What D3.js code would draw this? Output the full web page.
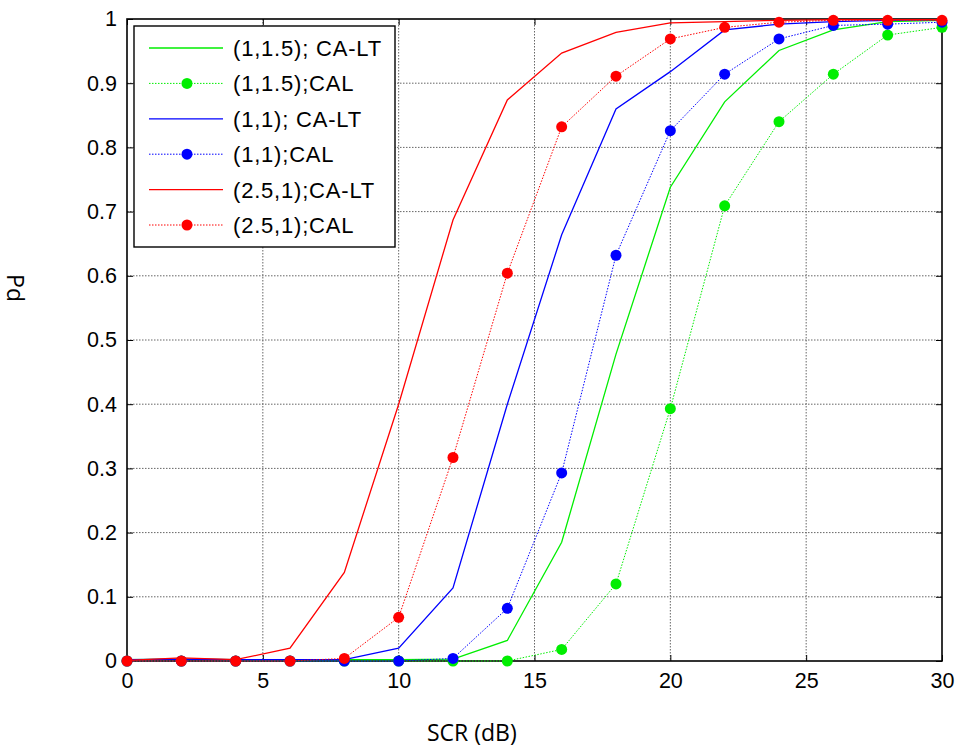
<!DOCTYPE html>
<html>
<head>
<meta charset="utf-8">
<script src="https://cdn.jsdelivr.net/npm/d3@7"></script>
<style>
  body { margin: 0; background: #fff; }
  svg { display: block; }
</style>
</head>
<body>
<svg id="chart" width="959" height="751"></svg>
<script>
// SCR values (dB)
var scr = [0, 2, 4, 6, 8, 10, 12, 14, 16, 18, 20, 22, 24, 26, 28, 30];

// Pd curves
var greenLT  = [0.002, 0.003, 0.002, 0.002, 0.002, 0.002, 0.003, 0.032, 0.185, 0.478, 0.738, 0.871, 0.951, 0.983, 0.996, 0.998];
var greenCAL = [0, 0, 0, 0, 0, 0, 0, 0, 0.018, 0.12, 0.393, 0.709, 0.84, 0.914, 0.975, 0.987];
var blueLT   = [0.002, 0.003, 0.002, 0.002, 0.002, 0.02, 0.114, 0.40, 0.664, 0.86, 0.918, 0.983, 0.992, 0.996, 0.998, 0.999];
var blueCAL  = [0, 0, 0, 0, 0, 0, 0.004, 0.082, 0.293, 0.632, 0.826, 0.914, 0.969, 0.99, 0.992, 0.995];
var redLT    = [0.001, 0.005, 0.002, 0.02, 0.138, 0.40, 0.687, 0.874, 0.947, 0.979, 0.994, 0.996, 0.998, 0.999, 0.999, 0.999];
var redCAL   = [0, 0, 0, 0, 0.004, 0.068, 0.317, 0.604, 0.832, 0.911, 0.969, 0.987, 0.995, 0.998, 0.998, 0.998];

var legendLabels = ["(1,1.5); CA-LT", "(1,1.5);CAL", "(1,1); CA-LT", "(1,1);CAL", "(2.5,1);CA-LT", "(2.5,1);CAL"];
var xTicks = [0, 5, 10, 15, 20, 25, 30];
var yTicks = [0, 0.1, 0.2, 0.3, 0.4, 0.5, 0.6, 0.7, 0.8, 0.9, 1];

var series = [
  { name: legendLabels[0], values: greenLT,  color: "#00ee00", marker: false },
  { name: legendLabels[1], values: greenCAL, color: "#00ee00", marker: true },
  { name: legendLabels[2], values: blueLT,   color: "#0000ff", marker: false },
  { name: legendLabels[3], values: blueCAL,  color: "#0000ff", marker: true },
  { name: legendLabels[4], values: redLT,    color: "#ff0000", marker: false },
  { name: legendLabels[5], values: redCAL,   color: "#ff0000", marker: true }
];

var svg = d3.select("#chart");
var pLeft = 127, pRight = 942, pTop = 19, pBottom = 661;

var x = d3.scaleLinear().domain([0, 30]).range([pLeft, pRight]);
var y = d3.scaleLinear().domain([0, 1]).range([pBottom, pTop]);

var tickFont = "'Liberation Sans', Arial, sans-serif";

// grid
var grid = svg.append("g");
grid.selectAll(".gx").data(xTicks.slice(1, -1)).enter().append("line")
  .attr("x1", d => x(d)).attr("x2", d => x(d))
  .attr("y1", pTop).attr("y2", pBottom)
  .attr("stroke", "#666").attr("stroke-width", 1).attr("stroke-dasharray", "1.5,1.5");
grid.selectAll(".gy").data(yTicks.slice(1, -1)).enter().append("line")
  .attr("y1", d => y(d)).attr("y2", d => y(d))
  .attr("x1", pLeft).attr("x2", pRight)
  .attr("stroke", "#666").attr("stroke-width", 1).attr("stroke-dasharray", "1.5,1.5");

// axes, ticks inward like matlab
var xAxisB = d3.axisBottom(x).tickValues(xTicks).tickSize(-6).tickPadding(12).tickFormat(d3.format("d"));
var xAxisT = d3.axisTop(x).tickValues(xTicks).tickSize(-6).tickFormat("");
var yAxisL = d3.axisLeft(y).tickValues(yTicks).tickSize(-6).tickPadding(10).tickFormat(d => d === 0 || d === 1 ? d : d3.format(".1f")(d));
var yAxisR = d3.axisRight(y).tickValues(yTicks).tickSize(-6).tickFormat("");

function styleAxis(g) {
  g.select(".domain").remove();
  g.selectAll(".tick line").attr("stroke", "#000").attr("stroke-width", 1);
  g.selectAll("text").attr("font-family", tickFont).attr("font-size", 21.5).attr("fill", "#000");
}
svg.append("g").attr("transform", "translate(0," + pBottom + ")").call(xAxisB).call(styleAxis);
svg.append("g").attr("transform", "translate(0," + pTop + ")").call(xAxisT).call(styleAxis);
svg.append("g").attr("transform", "translate(" + pLeft + ",0)").call(yAxisL).call(styleAxis);
svg.append("g").attr("transform", "translate(" + pRight + ",0)").call(yAxisR).call(styleAxis);

svg.append("rect")
  .attr("x", pLeft).attr("y", pTop)
  .attr("width", pRight - pLeft).attr("height", pBottom - pTop)
  .attr("fill", "none").attr("stroke", "#000").attr("stroke-width", 1.6);

// curves
var line = d3.line().x((d, i) => x(scr[i])).y(d => y(d));
var plot = svg.append("g");
series.forEach(function(s) {
  plot.append("path")
    .datum(s.values)
    .attr("d", line)
    .attr("fill", "none")
    .attr("stroke", s.color)
    .attr("stroke-width", s.marker ? 1 : 1.3)
    .attr("stroke-dasharray", s.marker ? "1.5,1.5" : null);
  if (s.marker) {
    plot.selectAll(null).data(s.values).enter().append("circle")
      .attr("cx", (d, i) => x(scr[i]))
      .attr("cy", d => y(d))
      .attr("r", 5.5)
      .attr("fill", s.color);
  }
});

// legend
var lg = svg.append("g");
lg.append("rect")
  .attr("x", 134).attr("y", 26).attr("width", 261).attr("height", 221)
  .attr("fill", "#fff").attr("stroke", "#000").attr("stroke-width", 1.4);
series.forEach(function(s, i) {
  var ly = 48 + i * 35.4;
  lg.append("line")
    .attr("x1", 149).attr("x2", 223).attr("y1", ly).attr("y2", ly)
    .attr("stroke", s.color).attr("stroke-width", s.marker ? 1 : 1.3)
    .attr("stroke-dasharray", s.marker ? "1.5,1.5" : null);
  if (s.marker) {
    lg.append("circle").attr("cx", 187).attr("cy", ly).attr("r", 5.5).attr("fill", s.color);
  }
  lg.append("text")
    .attr("x", 233).attr("y", ly + 8)
    .attr("font-family", tickFont).attr("font-size", 22)
    .attr("letter-spacing", 0.8)
    .text(s.name);
});

// axis labels
svg.append("text")
  .attr("x", 427).attr("y", 741)
  .attr("font-family", "'Open Sans', sans-serif").attr("font-size", 23)
  .text("SCR (dB)");
svg.append("text")
  .attr("transform", "translate(7,288) rotate(90)")
  .attr("text-anchor", "middle")
  .attr("font-family", "'Open Sans', sans-serif").attr("font-size", 23)
  .text("Pd");
</script>
</body>
</html>
